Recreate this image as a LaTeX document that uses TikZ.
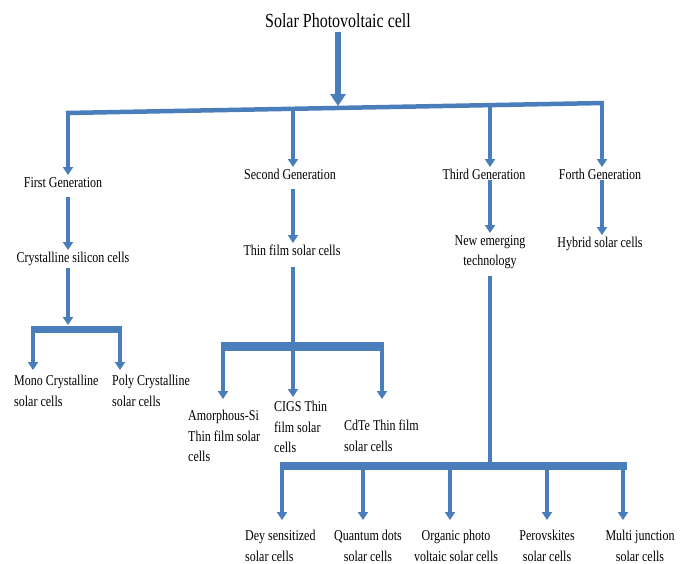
\documentclass[tikz,border=0pt]{standalone}
\usepackage{fontspec}
\setmainfont{Liberation Serif}[FakeStretch=0.8]
\usepackage{xcolor}
\usepackage{tikz}
\usetikzlibrary{arrows.meta}
\definecolor{wblue}{HTML}{4A7EBB}
\newcommand{\labsize}{\fontsize{15}{20.5}\selectfont}
\tikzset{ gen/.style = {align=center, inner sep=2pt, anchor=north, font=\labsize, text height=10pt, text depth=3pt} }
\tikzset{ leaf/.style = {inner sep=2pt, font=\labsize} }
\tikzset{ bigarr/.style = {draw=wblue, line width=6.5pt, -{Triangle[width=15pt,length=12pt]}} }
\tikzset{ sarr/.style = {draw=wblue, line width=3.5pt, -{Triangle[width=10pt,length=8pt]}} }
\tikzset{ sline/.style = {draw=wblue, line width=3.5pt} }
\tikzset{ bar/.style = {draw=wblue, line width=#1} }

\begin{document}
\begin{tikzpicture}[x=1pt,y=-1pt]
        \useasboundingbox (0,0) rectangle (685,563);
        \node[inner sep=2pt, anchor=base, font=\fontsize{20}{24}\selectfont] (spv) at (338,27) {Solar Photovoltaic cell};
        \coordinate (tl) at (66,113);
        \coordinate (tr) at (604,103);
        \coordinate (top) at (338,106);
        \coordinate (g1) at (68,112.6);
        \coordinate (g2) at (293,108.8);
        \coordinate (g3) at (490,105.1);
        \coordinate (g4) at (602,103);
        \draw[bar=4.5pt] (tl) -- (tr);
        \draw[bigarr, shorten <=3pt] (spv) -- (top);
        \node[gen] (fg) at (63,175) {First Generation};
        \node[gen] (sg) at (290,167) {Second Generation};
        \node[gen] (tg) at (484,167) {Third Generation};
        \node[gen] (hg) at (600,167) {Forth Generation};
        \draw[sarr] (g1) -- (g1 |- fg.north);
        \draw[sarr] (g2) -- (g2 |- sg.north);
        \draw[sarr] (g3) -- (g3 |- tg.north);
        \draw[sarr] (g4) -- (g4 |- hg.north);
        \node[gen] (cs) at (73,250) {Crystalline silicon cells};
        \node[gen] (tf) at (292,243) {Thin film solar cells};
        \node[leaf, align=center, anchor=north] (ne) at (490,233) {New emerging\\technology};
        \node[gen] (hy) at (600,235) {Hybrid solar cells};
        \draw[sarr, shorten <=5pt] (fg.south -| g1) -- (g1 |- cs.north);
        \draw[sarr, shorten <=5pt] (sg.south -| g2) -- (g2 |- tf.north);
        \draw[sarr, shorten <=-4pt] (tg.south -| g3) -- (g3 |- ne.north);
        \draw[sarr, shorten <=-4pt] (hg.south -| g4) -- (g4 |- hy.north);
        \coordinate (b1l) at (31,329);
        \coordinate (b1r) at (122,329);
        \coordinate (b1m) at (68,325);
        \coordinate (b1a) at (33,329);
        \coordinate (b1b) at (120,329);
        \draw[bar=7pt] (b1l) -- (b1r);
        \draw[sarr, shorten <=1pt] (cs.south -| g1) -- (b1m);
        \node[leaf, align=left, anchor=north west] (mc) at (12,373) {Mono Crystalline\\solar cells};
        \node[leaf, align=left, anchor=north west] (pc) at (110,373) {Poly Crystalline\\solar cells};
        \draw[sarr, shorten >=3pt] (b1a) -- (b1a |- mc.north);
        \draw[sarr, shorten >=3pt] (b1b) -- (b1b |- pc.north);
        \coordinate (b2l) at (221,346);
        \coordinate (b2r) at (384,346);
        \coordinate (b2m) at (293,346);
        \coordinate (b2a) at (223,346);
        \coordinate (b2c) at (382,346);
        \draw[bar=9pt] (b2l) -- (b2r);
        \draw[sline, shorten <=7pt] (tf.south -| g2) -- (b2m);
        \node[leaf, align=left, anchor=north west] (am) at (186,408) {Amorphous-Si\\Thin film solar\\cells};
        \node[leaf, align=left, anchor=north west] (ci) at (272,399) {CIGS Thin\\film solar\\cells};
        \node[leaf, align=left, anchor=north west] (cd) at (342,418) {CdTe Thin film\\solar cells};
        \draw[sarr, shorten >=9pt] (b2a) -- (b2a |- am.north);
        \draw[sarr, shorten >=2pt] (b2m) -- (b2m |- ci.north);
        \draw[sarr, shorten >=19pt] (b2c) -- (b2c |- cd.north);
        \coordinate (b3l) at (280,466);
        \coordinate (b3r) at (627,466);
        \coordinate (b3m) at (490,466);
        \coordinate (b3a) at (282,466);
        \coordinate (b3b) at (363,466);
        \coordinate (b3c) at (450,466);
        \coordinate (b3d) at (547,466);
        \coordinate (b3e) at (623,466);
        \draw[bar=8pt] (b3l) -- (b3r);
        \draw[sline, shorten <=5pt] (ne.south) -- (b3m);
        \node[leaf, align=left, anchor=north west] (dy) at (243,528) {Dey sensitized\\solar cells};
        \node[leaf, align=center, anchor=north] (qd) at (368,528) {Quantum dots\\solar cells};
        \node[leaf, align=center, anchor=north] (op) at (456,528) {Organic photo\\voltaic solar cells};
        \node[leaf, align=center, anchor=north] (pv) at (547,528) {Perovskites\\solar cells};
        \node[leaf, align=center, anchor=north] (mj) at (640,528) {Multi junction\\solar cells};
        \draw[sarr, shorten >=8pt] (b3a) -- (b3a |- dy.north);
        \draw[sarr, shorten >=8pt] (b3b) -- (b3b |- qd.north);
        \draw[sarr, shorten >=8pt] (b3c) -- (b3c |- op.north);
        \draw[sarr, shorten >=8pt] (b3d) -- (b3d |- pv.north);
        \draw[sarr, shorten >=8pt] (b3e) -- (b3e |- mj.north);
        \end{tikzpicture}
\end{document}
